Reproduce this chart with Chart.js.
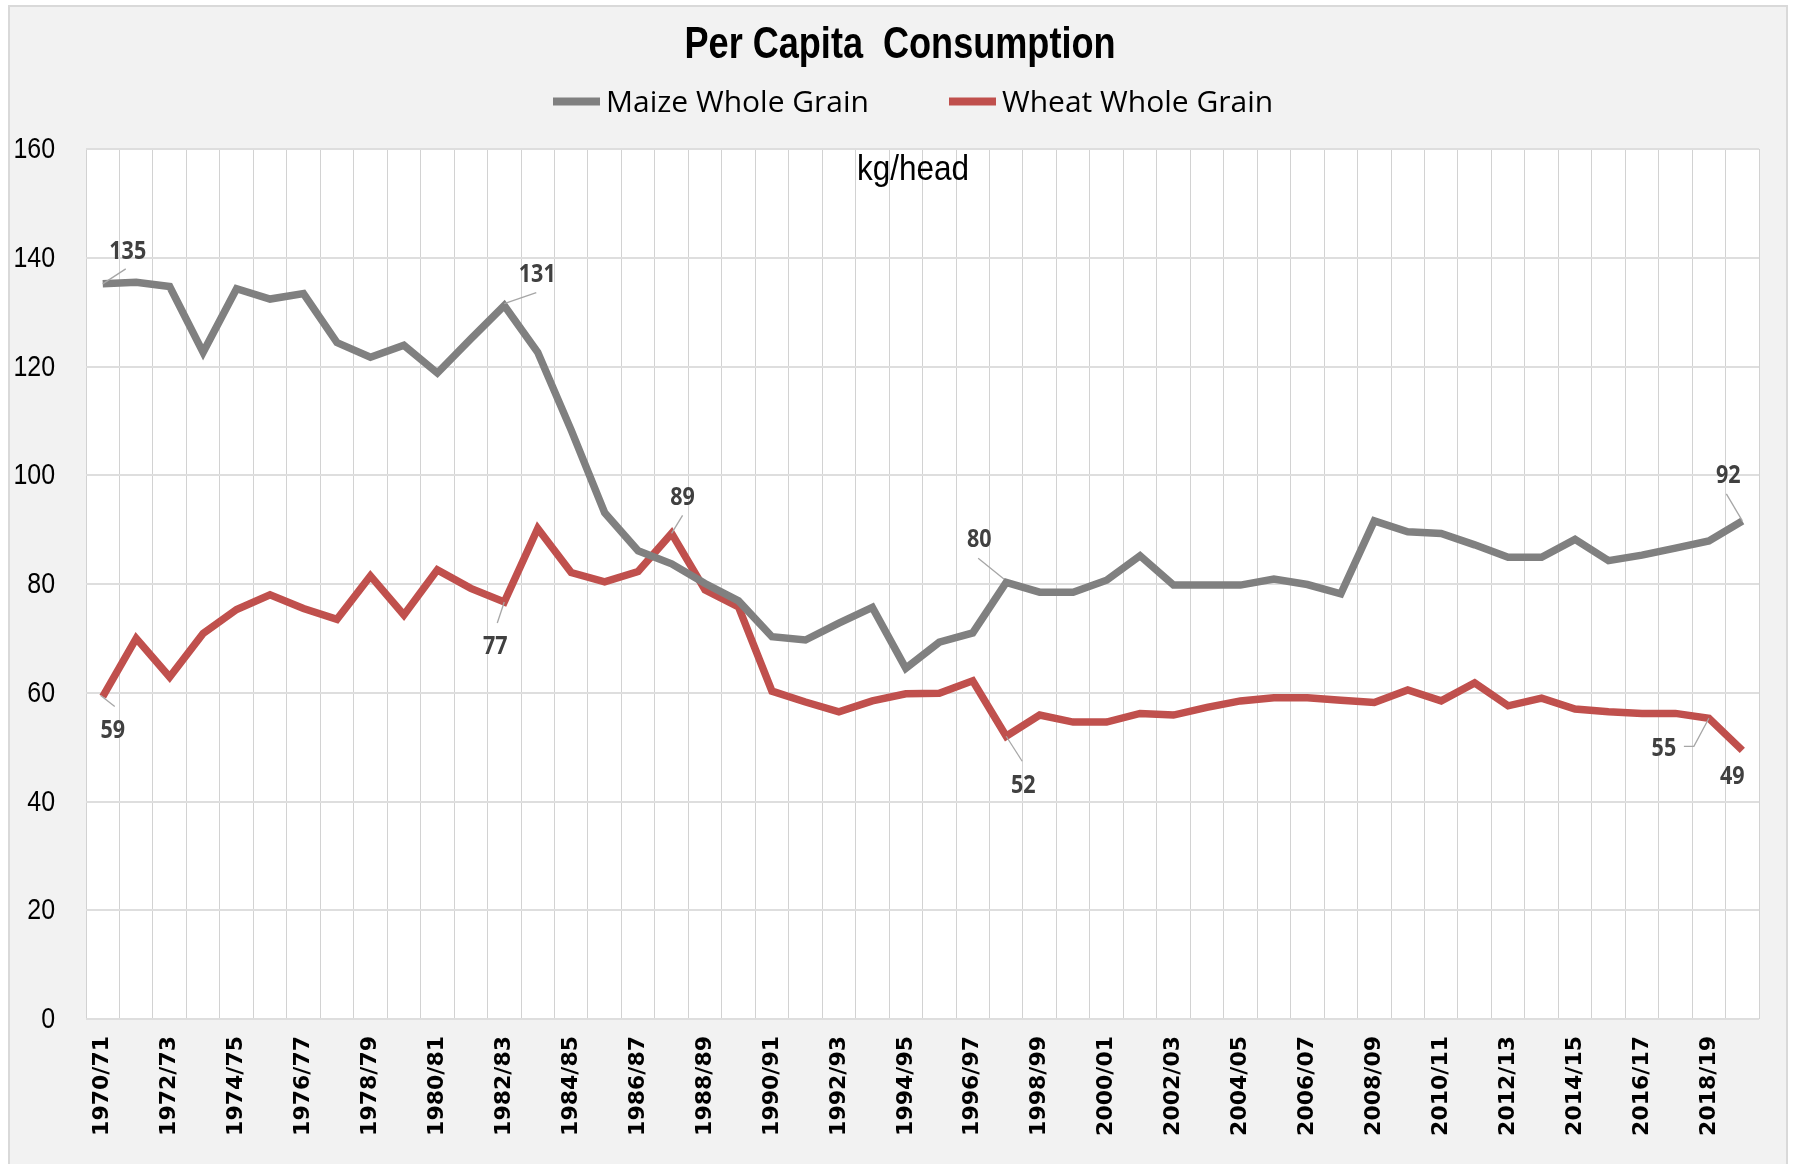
<!DOCTYPE html>
<html>
<head>
<meta charset="utf-8">
<script src="https://cdn.jsdelivr.net/npm/chart.js@4.4.1/dist/chart.umd.min.js"></script>
<style>
  html, body { margin: 0; padding: 0; background: #fff; }
  #frame {
    position: absolute; left: 8px; top: 5px; width: 1780px; height: 1170px;
    box-sizing: border-box; border: 2px solid #d9d9d9; background: #f2f2f2;
  }
  #chart { display: block; }
</style>
</head>
<body>
<div id="frame"><canvas id="chart" width="1776" height="1157"></canvas></div>
<script>
// seasons on the x axis
const seasons = [
  "1970/71", "1971/72", "1972/73", "1973/74", "1974/75", "1975/76", "1976/77", "1977/78", "1978/79", "1979/80",
  "1980/81", "1981/82", "1982/83", "1983/84", "1984/85", "1985/86", "1986/87", "1987/88", "1988/89", "1989/90",
  "1990/91", "1991/92", "1992/93", "1993/94", "1994/95", "1995/96", "1996/97", "1997/98", "1998/99", "1999/00",
  "2000/01", "2001/02", "2002/03", "2003/04", "2004/05", "2005/06", "2006/07", "2007/08", "2008/09", "2009/10",
  "2010/11", "2011/12", "2012/13", "2013/14", "2014/15", "2015/16", "2016/17", "2017/18", "2018/19", "2019/20"
];

// kg/head
const maize = [
  135.2, 135.5, 134.7, 122.6, 134.3, 132.4, 133.4, 124.4, 121.7, 123.9,
  118.8, 125.1, 131.2, 122.6, 108.3, 93.1, 86.1, 83.7, 80.1, 76.9,
  70.3, 69.7, 72.8, 75.7, 64.5, 69.3, 71.0, 80.3, 78.5, 78.5,
  80.7, 85.2, 79.8, 79.8, 79.8, 80.9, 79.9, 78.2, 91.6, 89.6,
  89.3, 87.2, 84.9, 84.9, 88.2, 84.3, 85.3, 86.6, 87.9, 91.6
];
const wheat = [
  59.3, 70.0, 62.9, 70.9, 75.3, 78.0, 75.5, 73.5, 81.5, 74.3,
  82.6, 79.2, 76.7, 90.2, 82.1, 80.4, 82.3, 89.3, 78.9, 75.8,
  60.3, 58.3, 56.5, 58.5, 59.8, 59.9, 62.2, 52.0, 55.9, 54.6,
  54.6, 56.2, 55.9, 57.3, 58.5, 59.1, 59.1, 58.6, 58.2, 60.5,
  58.5, 61.8, 57.6, 59.0, 57.0, 56.5, 56.2, 56.2, 55.3, 49.4
];

const yTicks = [0, 20, 40, 60, 80, 100, 120, 140, 160];
const seriesNames = ["Maize Whole Grain", "Wheat Whole Grain"];
const seriesColors = ["#808080", "#c0504d"];
const chartTitle = "Per Capita  Consumption";
const unitNote = "kg/head";

// which points get a value label (dataset, index) and where the label sits
const pointNotes = [
  { ds: 0, i: 0, dx: 25, dy: -32, leader: [[0, 0], [23, -15]] },
  { ds: 0, i: 12, dx: 33, dy: -31, leader: [[0, -2], [32, -13]] },
  { ds: 0, i: 27, dx: -27, dy: -42, leader: [[-2, -3], [-28, -24]] },
  { ds: 0, i: 49, dx: -14, dy: -45, leader: [[0, 0], [-16, -27]] },
  { ds: 1, i: 0, dx: 10, dy: 34, leader: [[-2, -1], [12, 10]] },
  { ds: 1, i: 12, dx: -9, dy: 45, leader: [[0, 0], [-7, 21]] },
  { ds: 1, i: 17, dx: 11, dy: -36, leader: [[0, 0], [11, -18]] },
  { ds: 1, i: 27, dx: 17, dy: 50, leader: [[0, 0], [16, 25]] },
  { ds: 1, i: 48, dx: -45, dy: 31, leader: [[0, 0], [-15, 28], [-25, 28]] },
  { ds: 1, i: 49, dx: -10, dy: 26 }
];

// narrow text: no narrow face is installed, so squeeze a regular one
function narrowText(ctx, text, x, y, font, squeeze, align) {
  ctx.save();
  ctx.font = font;
  ctx.textAlign = align || "center";
  ctx.textBaseline = "middle";
  ctx.translate(x, y);
  ctx.scale(squeeze, 1);
  ctx.fillText(text, 0, 0);
  ctx.restore();
}

const plotBackground = {
  id: "plotBackground",
  beforeDraw(chart) {
    const { ctx, chartArea: a } = chart;
    ctx.save();
    ctx.fillStyle = "#ffffff";
    ctx.fillRect(a.left, a.top, a.right - a.left, a.bottom - a.top);
    ctx.restore();
  }
};

const notes = {
  id: "notes",
  afterDatasetsDraw(chart) {
    const ctx = chart.ctx;
    ctx.save();
    ctx.strokeStyle = "#a6a6a6";
    ctx.lineWidth = 1.3;
    ctx.fillStyle = "#404040";
    pointNotes.forEach(n => {
      const pt = chart.getDatasetMeta(n.ds).data[n.i];
      const value = chart.data.datasets[n.ds].data[n.i];
      if (n.leader) {
        ctx.beginPath();
        n.leader.forEach(([lx, ly], k) => {
          if (k === 0) ctx.moveTo(pt.x + lx, pt.y + ly);
          else ctx.lineTo(pt.x + lx, pt.y + ly);
        });
        ctx.stroke();
      }
      narrowText(ctx, String(Math.round(value)), pt.x + n.dx, pt.y + n.dy,
        "bold 25px 'Open Sans', sans-serif", 0.86);
    });
    ctx.restore();
  }
};

// title, legend, y tick labels and the unit note in the plot
const extras = {
  id: "extras",
  afterDraw(chart) {
    const ctx = chart.ctx;
    ctx.save();
    ctx.fillStyle = "#000000";
    narrowText(ctx, chartTitle, 890, 39, "bold 44px 'Liberation Sans', sans-serif", 0.82);

    const yScale = chart.scales.y;
    yTicks.forEach(v => {
      narrowText(ctx, String(v), yScale.right - 31, yScale.getPixelForValue(v) + 1,
        "29px 'Liberation Sans', sans-serif", 0.86, "right");
    });

    const swatchX = [543, 939];
    ctx.font = "30px 'Open Sans', sans-serif";
    ctx.textBaseline = "middle";
    ctx.textAlign = "left";
    swatchX.forEach((x, k) => {
      ctx.fillStyle = seriesColors[k];
      ctx.fillRect(x, 90.5, 47, 8);
      ctx.fillStyle = "#000000";
      ctx.fillText(seriesNames[k], x + 53, 96);
    });

    narrowText(ctx, unitNote, 903, 163, "35px 'Liberation Sans', sans-serif", 0.9);
    ctx.restore();
  }
};

new Chart(document.getElementById("chart"), {
  type: "line",
  data: {
    labels: seasons,
    datasets: [
      { label: seriesNames[0], data: maize, borderColor: seriesColors[0], backgroundColor: seriesColors[0] },
      { label: seriesNames[1], data: wheat, borderColor: seriesColors[1], backgroundColor: seriesColors[1] }
    ]
  },
  options: {
    responsive: false,
    animation: false,
    layout: { padding: { left: 0, right: 25, top: 142, bottom: 0 } },
    elements: {
      line: { borderWidth: 7.5, tension: 0, borderJoinStyle: "miter", borderCapStyle: "butt" },
      point: { radius: 0, hoverRadius: 0 }
    },
    plugins: {
      legend: { display: false },
      tooltip: { enabled: false },
      title: { display: false }
    },
    scales: {
      x: {
        offset: true,
        grid: { offset: true, color: "#d2d2d2", lineWidth: 1, drawTicks: false },
        border: { display: false },
        ticks: {
          autoSkip: false,
          maxRotation: 90,
          minRotation: 90,
          padding: 17,
          color: "#000000",
          font: { family: "'DejaVu Sans', sans-serif", size: 22, weight: "bold" },
          callback(value, index) { return index % 2 === 0 ? this.getLabelForValue(value) : ""; }
        },
        afterFit(scale) { scale.height = 145; }
      },
      y: {
        min: 0,
        max: 160,
        ticks: { stepSize: 20, display: false },
        grid: { color: "#dedede", lineWidth: 2, drawTicks: false },
        border: { display: false },
        afterFit(scale) { scale.width = 76; }
      }
    }
  },
  plugins: [plotBackground, notes, extras]
});
</script>
</body>
</html>
